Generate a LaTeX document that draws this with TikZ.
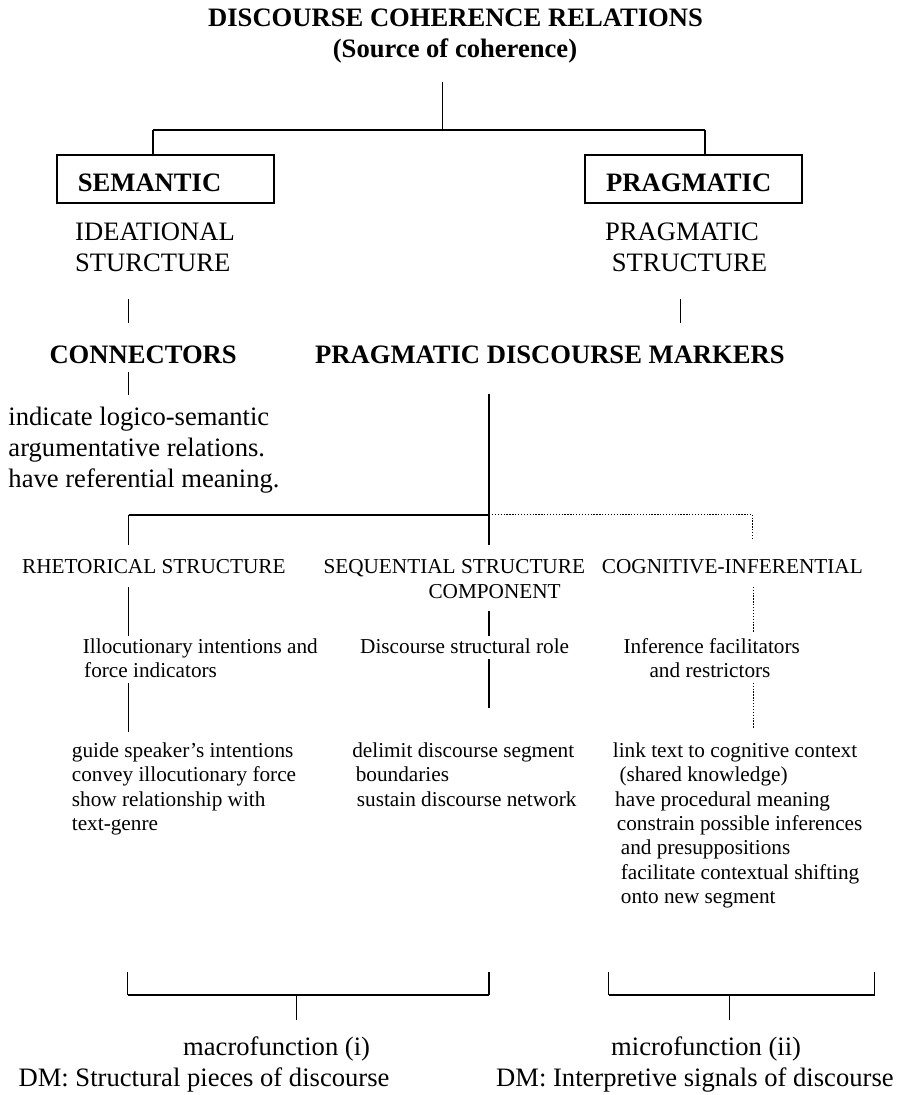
\documentclass[tikz,border=0pt]{standalone}
\usepackage{fontspec}
\setmainfont{Liberation Serif}
\begin{document}
\begin{tikzpicture}[x=1pt,y=-1pt,
  big/.style={font=\fontsize{26.6}{31}\selectfont, inner sep=0pt, anchor=base west},
  bigb/.style={font=\fontsize{26.6}{31}\selectfont\bfseries, inner sep=0pt, anchor=base west},
  small/.style={font=\fontsize{21.25}{24.4}\selectfont, inner sep=0pt, anchor=base west},
  catbox/.style={bigb, draw, line width=1.8pt, text width=174.7pt, inner xsep=21pt,
    inner ysep=0pt, text height=36.7pt, text depth=11pt, align=left},
  link/.style={line width=1.3pt},
  bar/.style={line width=1.8pt},
  dotlink/.style={line width=1.3pt, dash pattern=on 1.3pt off 1.6pt},
  dotbar/.style={line width=1.5pt, dash pattern=on 1.3pt off 1.6pt}]
\useasboundingbox (0,0) rectangle (901,1095);

% heading
\node[bigb, anchor=base] (title) at (455.5,26.7) {DISCOURSE COHERENCE RELATIONS};
\node[bigb, anchor=base] (source) at (455,57.3) {(Source of coherence)};

% the two kinds of relations
\node[catbox, anchor=base west] (semantic) at (56,191.7) {SEMANTIC};
\node[catbox, anchor=base west] (pragmatic) at (584.3,191.7) {PRAGMATIC};

\node[big] (ideational) at (75,240.7) {IDEATIONAL};
\node[big] (ideastruct) at (75,271.7) {STURCTURE};
\node[big] (pragm) at (605,240) {PRAGMATIC};
\node[big] (pragstruct) at (611.7,271.7) {STRUCTURE};

\node[bigb] (connectors) at (49.3,363.3) {CONNECTORS};
\node[bigb] (pdm) at (315,363.3) {PRAGMATIC DISCOURSE MARKERS};

\node[big] (conn1) at (8.3,425.5) {indicate logico-semantic};
\node[big] (conn2) at (8.3,456.3) {argumentative relations.};
\node[big] (conn3) at (8.3,487) {have referential meaning.};

% three components
\node[small] (rhet) at (21.9,573.3) {RHETORICAL STRUCTURE};
\node[small] (seq1) at (323.3,573.3) {SEQUENTIAL STRUCTURE};
\node[small] (seq2) at (428.3,598.3) {COMPONENT};
\node[small] (cog) at (601.7,573.3) {COGNITIVE-INFERENTIAL};

\node[small] (illoc1) at (82.7,653.3) {Illocutionary intentions and};
\node[small] (illoc2) at (84,677.7) {force indicators};
\node[small] (role) at (360,653.3) {Discourse structural role};
\node[small] (infer1) at (623.3,653.3) {Inference facilitators};
\node[small] (infer2) at (649.3,677.7) {and restrictors};

\node[small] (ra) at (71.7,757.3) {guide speaker’s intentions};
\node[small] (rb) at (71.7,781.7) {convey illocutionary force};
\node[small] (rc) at (71.7,806) {show relationship with};
\node[small] (rd) at (71.7,830.3) {text-genre};

\node[small] (sa) at (352.1,757.3) {delimit discourse segment};
\node[small] (sb) at (355.6,781.7) {boundaries};
\node[small] (sc) at (356.7,806) {sustain discourse network};

\node[small] (ca) at (612.7,757.3) {link text to cognitive context};
\node[small] (cb) at (619.3,781.7) {(shared knowledge)};
\node[small] (cc) at (615,806) {have procedural meaning};
\node[small] (cd) at (616.7,830.3) {constrain possible inferences};
\node[small] (ce) at (620.7,854.7) {and presuppositions};
\node[small] (cf) at (620.7,879) {facilitate contextual shifting};
\node[small] (cg) at (620.7,903.3) {onto new segment};

% functions
\node[big] (macro) at (183,1055) {macrofunction (i)};
\node[big] (macrodm) at (18.4,1086.7) {DM: Structural pieces of discourse};
\node[big] (micro) at (611,1055) {microfunction (ii)};
\node[big] (microdm) at (496,1086.7) {DM: Interpretive signals of discourse};

% connector end points
\coordinate (t0) at (442.6,81.7);
\coordinate (tj) at (442.6,130);
\coordinate (ls) at (153,130);
\coordinate (rs) at (705,130);

\coordinate (a1) at (128.3,299.3);
\coordinate (a2) at (128.3,322.7);
\coordinate (b1) at (680.7,299.3);
\coordinate (b2) at (680.7,322.7);
\coordinate (c1) at (128.3,371.7);
\coordinate (c2) at (128.3,395);

\coordinate (m0) at (489,394.3);
\coordinate (mj) at (489,514.6);
\coordinate (m1) at (489,545);
\coordinate (lj) at (128.5,514.6);
\coordinate (l1) at (128.5,545);
\coordinate (dj) at (752.7,514.6);
\coordinate (d1) at (752.7,540);

\coordinate (r1) at (128.3,587);
\coordinate (r2) at (128.3,635.5);
\coordinate (r3) at (128.3,683.3);
\coordinate (r4) at (128.3,731.7);
\coordinate (s1) at (489,611);
\coordinate (s2) at (489,635.7);
\coordinate (s3) at (489,659);
\coordinate (s4) at (489,708.3);
\coordinate (q1) at (753.3,586.7);
\coordinate (q2) at (753.3,631.7);
\coordinate (q3) at (753.3,682.7);
\coordinate (q4) at (753.3,728.3);

\coordinate (ml) at (127.7,971.7);
\coordinate (mr) at (489,971.7);
\coordinate (mc) at (296.3,995);
\coordinate (mcs) at (296.3,1020);
\coordinate (nl) at (608.7,971.7);
\coordinate (nr) at (874.6,971.7);
\coordinate (nc) at (729.6,995);
\coordinate (ncs) at (729.6,1020);

% top tree
\draw[link] (t0) -- (tj);
\draw[bar] (ls) -- (rs);
\draw[link] (ls) -- (ls |- semantic.north);
\draw[link] (rs) -- (rs |- pragmatic.north);

\draw[link] (a1) -- (a2);
\draw[link] (b1) -- (b2);
\draw[link] (c1) -- (c2);

% branching of the pragmatic discourse markers
\draw[link] (m0) -- (m1);
\draw[bar] (lj) -- (mj);
\draw[link] (lj) -- (l1);
\draw[dotbar] (mj) -- (dj);
\draw[dotlink] (dj) -- (d1);

\draw[link] (r1) -- (r2);
\draw[link] (r3) -- (r4);
\draw[link] (s1) -- (s2);
\draw[link] (s3) -- (s4);
\draw[dotlink] (q1) -- (q2);
\draw[dotlink] (q3) -- (q4);

% brackets for the two functions
\draw[link] (ml) -- (ml |- mc);
\draw[link] (mr) -- (mr |- mc);
\draw[bar] (ml |- mc) -- (mr |- mc);
\draw[link] (mc) -- (mcs);
\draw[link] (nl) -- (nl |- nc);
\draw[link] (nr) -- (nr |- nc);
\draw[bar] (nl |- nc) -- (nr |- nc);
\draw[link] (nc) -- (ncs);
\end{tikzpicture}
\end{document}
